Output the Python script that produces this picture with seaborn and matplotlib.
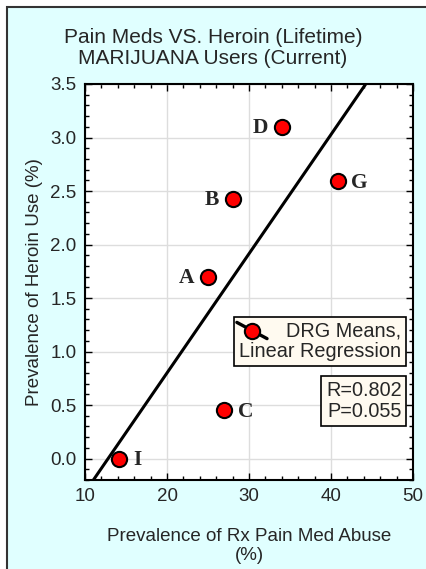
import seaborn as sns
import matplotlib.pyplot as plt
import pandas as pd
from matplotlib.patches import Rectangle
from matplotlib.lines import Line2D
from matplotlib.ticker import MultipleLocator

# DRG means
groups = ['I', 'C', 'A', 'B', 'D', 'G']
rx_pain = [14.2, 27.0, 25.0, 28.1, 34.0, 40.8]
heroin = [0.0, 0.45, 1.70, 2.43, 3.10, 2.59]
label_side = ['right', 'right', 'left', 'left', 'left', 'right']
stats_text = 'R=0.802\nP=0.055'

df = pd.DataFrame({'group': groups, 'rx': rx_pain, 'heroin': heroin, 'side': label_side})

sns.set_style('ticks')
plt.rcParams['font.family'] = ['Liberation Sans', 'DejaVu Sans']

fig = plt.figure(figsize=(4.26, 5.69), dpi=100, facecolor='white')
# cyan panel with dark frame
fig.patches.append(Rectangle((7 / 426, -0.05), 1.1, 1 - 7 / 569 + 0.05, transform=fig.transFigure,
                             facecolor='#E0FFFF', edgecolor='#333333', lw=1.5, zorder=-1))

ax = fig.add_axes([85 / 426, 1 - 480 / 569, 328 / 426, 396 / 569])
ax.set_xlim(10, 50)
ax.set_ylim(-0.2, 3.5)

sns.regplot(data=df, x='rx', y='heroin', ax=ax, ci=None, truncate=False, scatter=False,
            line_kws=dict(color='black', lw=2.2, zorder=2))
sns.scatterplot(data=df, x='rx', y='heroin', ax=ax, color='red', edgecolor='black',
                linewidth=1.5, s=120, zorder=3)

for _, r in df.iterrows():
    off = 10 if r.side == 'right' else -10
    ax.annotate(r.group, (r.rx, r.heroin), xytext=(off, -1), textcoords='offset points',
                ha='left' if r.side == 'right' else 'right', va='center',
                family='Liberation Serif', fontweight='bold', fontsize=15.5)

ax.set_xlim(10, 50)
ax.set_ylim(-0.2, 3.5)
ax.xaxis.set_major_locator(MultipleLocator(10))
ax.xaxis.set_minor_locator(MultipleLocator(2))
ax.yaxis.set_major_locator(MultipleLocator(0.5))
ax.yaxis.set_minor_locator(MultipleLocator(0.1))
ax.yaxis.set_major_formatter(plt.FormatStrFormatter('%.1f'))
ax.grid(True, which='major', color='#DDDDDD', lw=1)
ax.set_axisbelow(True)
ax.tick_params(which='both', direction='in', top=True, right=True, labelsize=13.5, color='black')
ax.tick_params(which='major', length=5, width=1, pad=6)
ax.tick_params(which='minor', length=3, width=1)
for sp in ax.spines.values():
    sp.set_linewidth(1.5)
    sp.set_color('black')

ax.set_xlabel('Prevalence of Rx Pain Med Abuse\n(%)', fontsize=13.5, labelpad=16, linespacing=1.15)
ax.set_ylabel('Prevalence of Heroin Use (%)', fontsize=13.5, labelpad=5)
fig.text(0.5, 1 - 48 / 569, 'Pain Meds VS. Heroin (Lifetime)\nMARIJUANA Users (Current)',
         ha='center', va='center', fontsize=15, linespacing=1.1)

# legend box
ax.text(0.965, 0.35, 'DRG Means,\nLinear Regression', transform=ax.transAxes, ha='right',
        va='center', multialignment='right', fontsize=14.3, linespacing=1.1,
        bbox=dict(boxstyle='square,pad=0.25', fc='#FFFAF0', ec='black', lw=1.2), zorder=4)
ax.add_line(Line2D([0.463, 0.555], [0.398, 0.357], transform=ax.transAxes, color='black',
                   lw=2.4, zorder=5))
ax.add_line(Line2D([0.51], [0.377], transform=ax.transAxes, marker='o', ms=11, mfc='red',
                   mec='black', mew=1.5, zorder=6))

ax.text(0.965, 0.199, stats_text, transform=ax.transAxes, ha='right', va='center',
        fontsize=14.3, linespacing=1.1,
        bbox=dict(boxstyle='square,pad=0.25', fc='#FFFAF0', ec='black', lw=1.2), zorder=4)

fig.savefig('out.png', dpi=100)
